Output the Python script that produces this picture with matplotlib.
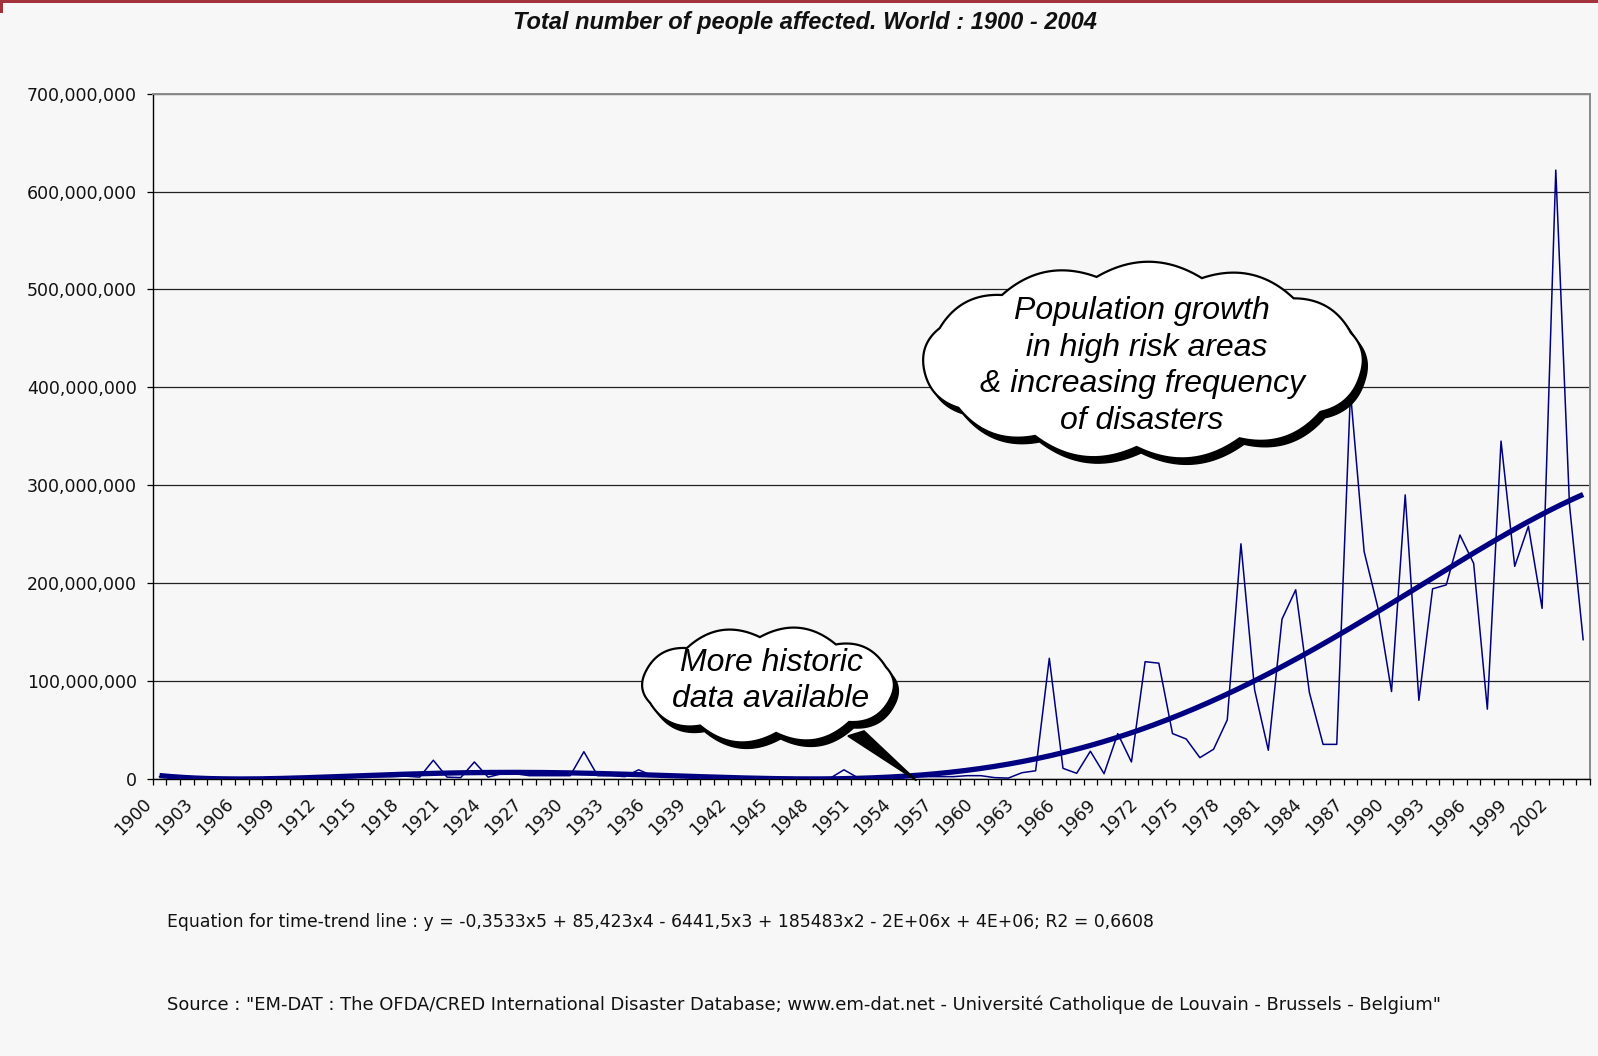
import numpy as np
import matplotlib
matplotlib.use("Agg")
import matplotlib.pyplot as plt
from matplotlib.patches import Polygon, Rectangle
from matplotlib.ticker import FuncFormatter, FixedLocator
from matplotlib.transforms import ScaledTranslation

# ---------------- data ----------------
years = list(range(1900, 2005))
affected_millions = [
    # 1900-1909
    2, 2, 1.5, 1, 1, 1, 0, 0, 0, 0.5,
    # 1910-1919
    0.5, 0.5, 0.5, 0.8, 1, 2, 2, 2, 2.5, 1.5,
    # 1920-1929
    18.8, 1.5, 1, 17, 1.5, 5, 5, 3, 3, 3,
    # 1930-1939
    3, 27.5, 3, 3, 2, 9, 3, 3, 2, 2,
    # 1940-1949
    1, 1, 1, 1, 1, 1, 1, 0, 0, 0.5,
    # 1950-1959
    9, 1, 1, 1.5, 1.5, 2, 2, 2, 2, 3,
    # 1960-1969
    3, 1, 0.5, 6, 8, 123, 10.5, 5.4, 28, 5,
    # 1970-1979
    46, 17, 119.5, 118, 46, 40.5, 21.4, 30, 60, 240,
    # 1980-1989
    90.6, 29, 163, 193, 88, 35, 35, 395, 232, 175,
    # 1990-1999
    89, 290, 80, 194, 198, 249, 220, 71, 345, 217,
    # 2000-2004
    258, 174, 622, 280, 142,
]
y_ticks = [0, 100e6, 200e6, 300e6, 400e6, 500e6, 600e6, 700e6]
label_years = years[::3]

title_text = "Total number of people affected. World : 1900 - 2004"
equation_text = ("Equation for time-trend line : y = -0,3533x5 + 85,423x4 - 6441,5x3 + "
                 "185483x2 - 2E+06x + 4E+06; R2 = 0,6608")
source_text = ('Source : "EM-DAT : The OFDA/CRED International Disaster Database; '
               'www.em-dat.net - Université Catholique de Louvain - Brussels - Belgium"')
cloud_small_text = "More historic\ndata available"
cloud_big_text = "Population growth\n in high risk areas\n& increasing frequency\nof disasters"

# ---------------- figure ----------------
W, H = 1598, 1056
BG = "#f7f7f7"
NAVY = "#000080"
fig = plt.figure(figsize=(W / 100, H / 100), dpi=100, facecolor=BG)

x0, x1, ybot, ytop = 152.7, 1590.0, 778.6, 93.8
ax = fig.add_axes([x0 / W, (H - ybot) / H, (x1 - x0) / W, (ybot - ytop) / H])
ax.set_facecolor(BG)

idx = np.arange(len(years))
vals = np.array(affected_millions) * 1e6

# polynomial (order 5) time-trend fitted to the series, x = 1..n as in the spreadsheet
poly = np.polynomial.Polynomial.fit(idx + 1, vals, 5)
xx = np.linspace(0, len(years) - 1, 600)
trend = poly(xx + 1)

ax.plot(idx, vals, color=NAVY, lw=1.1, zorder=3)
ax.plot(xx, trend, color=NAVY, lw=3.8, zorder=4, solid_capstyle="butt")

ax.set_xlim(-0.5, len(years) - 0.5)
ax.set_ylim(0, 700e6)

ax.yaxis.set_major_locator(FixedLocator(y_ticks))
ax.yaxis.set_major_formatter(FuncFormatter(lambda v, p: f"{v:,.0f}"))
ax.yaxis.grid(True, color="#222222", lw=0.9)
ax.set_axisbelow(True)
ax.tick_params(axis="y", direction="out", length=4.5, width=0.9, pad=7,
               labelsize=12.5, colors="black")
for t in ax.get_yticklabels():
    t.set_fontfamily("DejaVu Sans")
    t.set_color("#111111")

label_pos = [years.index(y) for y in label_years]
ax.xaxis.set_major_locator(FixedLocator(label_pos))
ax.set_xticklabels([str(y) for y in label_years], rotation=45, ha="right",
                   va="top", rotation_mode="anchor", fontsize=12.5,
                   family="DejaVu Sans", color="#111111")
ax.xaxis.set_minor_locator(FixedLocator(np.arange(-0.5, len(years), 1.0)))
ax.tick_params(axis="x", which="major", length=0, pad=12)
ax.tick_params(axis="x", which="minor", direction="out", length=4.5, width=0.9)
off = ScaledTranslation(-17 / 100, 0, fig.dpi_scale_trans)
for t in ax.get_xticklabels():
    t.set_transform(t.get_transform() + off)

for s in ["left", "bottom"]:
    ax.spines[s].set_color("black")
    ax.spines[s].set_linewidth(1.0)
for s in ["top", "right"]:
    ax.spines[s].set_color("#8a8a8a")
    ax.spines[s].set_linewidth(1.4)

# ---------------- texts ----------------
fig.text(805 / W, 1 - 23 / H, title_text, ha="center", va="center",
         fontsize=17, fontweight="bold", fontstyle="italic",
         family="Liberation Sans", color="#111111")
fig.text(167 / W, 1 - 922 / H, equation_text, ha="left", va="center",
         fontsize=12.4, family="DejaVu Sans", color="#111111")
fig.text(167 / W, 1 - 1005 / H, source_text, ha="left", va="center",
         fontsize=12.9, family="DejaVu Sans", color="#111111")

# top red frame
fig.add_artist(Rectangle((0, 1 - 3 / H), 1, 3 / H, transform=fig.transFigure,
                         color="#a3323c", lw=0))
fig.add_artist(Rectangle((0, 1 - 13 / H), 3 / W, 13 / H, transform=fig.transFigure,
                         color="#a3323c", lw=0))

# ---------------- callout clouds (pixel overlay) ----------------
ov = fig.add_axes([0, 0, 1, 1], zorder=10)
ov.set_xlim(0, W)
ov.set_ylim(H, 0)
ov.axis("off")
ov.patch.set_alpha(0)


def cloud(cx, cy, rx, ry, n, bump, phase=0.3):
    ang = np.linspace(0, 2 * np.pi, n + 1) + phase
    P = np.c_[cx + rx * np.cos(ang), cy + ry * np.sin(ang)]
    out = []
    t = np.linspace(0, 1, 24)[:, None]
    for i in range(n):
        a, b = P[i], P[i + 1]
        d = b - a
        L = np.hypot(*d)
        nrm = np.array([d[1], -d[0]]) / L
        if np.dot(nrm, (a + b) / 2 - np.array([cx, cy])) < 0:
            nrm = -nrm
        seg = a + t * d + nrm * bump * L * 4 * t * (1 - t)
        out.append(seg[:-1])
    return np.vstack(out)


def draw_cloud(cx, cy, rx, ry, n, bump, phase, text, tcx, tcy, ls, tail=None):
    pts = cloud(cx, cy, rx, ry, n, bump, phase)
    if tail is not None:
        ov.add_patch(Polygon(tail, closed=True, fc="black", ec="black", lw=1.2,
                             zorder=1))
    ov.add_patch(Polygon(pts + np.array([4.5, 6]), closed=True, fc="black",
                         ec="black", lw=1, zorder=2))
    ov.add_patch(Polygon(pts, closed=True, fc="white", ec="black", lw=1.6,
                         zorder=3))
    ov.text(tcx, tcy, text, ha="center", va="center", fontsize=23,
            fontstyle="italic", family="Liberation Sans", linespacing=ls,
            zorder=4)


# tail tip points at the axis near 1955
tip_disp = ax.transData.transform((55.3, 0))
tip = (tip_disp[0], H - tip_disp[1] + 2)
draw_cloud(768, 685, 127, 48, 10, 0.17, 0.25, cloud_small_text, 771, 681, 1.26,
           tail=[(848, 736), (864, 731), tip])
draw_cloud(1143, 361, 220, 86, 13, 0.15, 0.15, cloud_big_text, 1142, 366, 1.3)

fig.savefig("out.png", dpi=100, facecolor=BG)
